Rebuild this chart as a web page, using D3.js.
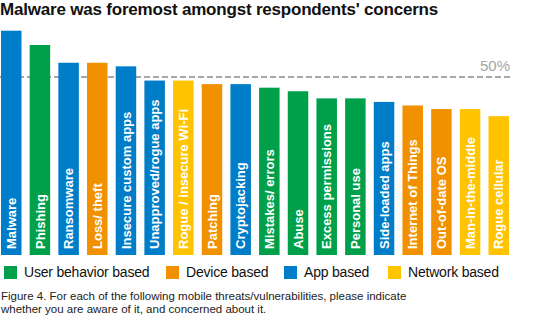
<!DOCTYPE html>
<html>
<head>
<meta charset="utf-8">
<script src="https://cdn.jsdelivr.net/npm/d3@7/dist/d3.min.js"></script>
<style>
  html, body { margin: 0; padding: 0; background: #fff; }
  svg { display: block; }
  text { font-family: "Liberation Sans", Arial, Helvetica, sans-serif; }
</style>
</head>
<body>
<svg id="chart" width="552" height="331"></svg>
<script>
// Threats, in order of share of respondents concerned
const categories = [
  "Malware", "Phishing", "Ransomware", "Loss/ theft", "Insecure custom apps",
  "Unapproved/rogue apps", "Rogue / insecure Wi-Fi", "Patching", "Cryptojacking",
  "Mistakes/ errors", "Abuse", "Excess permissions", "Personal use",
  "Side-loaded apps", "Internet of Things", "Out-of-date OS",
  "Man-in-the-middle", "Rogue cellular"
];
// Percent aware of and concerned about each threat
const values = [63, 59, 54, 54, 53, 49, 49, 48, 48, 47, 46, 44, 44, 43, 42, 41, 41, 39];
// Threat group for each bar
const groups = [
  "App", "User", "App", "Device", "App",
  "App", "Network", "Device", "App",
  "User", "User", "User", "User",
  "App", "Device", "Device",
  "Network", "Network"
];
const legendKeys = ["User", "Device", "App", "Network"];
const legendLabels = ["User behavior based", "Device based", "App based", "Network based"];
const referenceValue = 50;
const referenceLabel = "50%";

const colour = d3.scaleOrdinal()
  .domain(legendKeys)
  .range(["#00A04B", "#F29100", "#007DC8", "#FFC300"]);

const svg = d3.select("#chart");

const x = d3.scaleBand()
  .domain(categories)
  .range([1, 509])
  .paddingInner(0.285)
  .paddingOuter(0);

const y = d3.scaleLinear()
  .domain([0, 50])
  .range([255, 77]);

// Title
svg.append("text")
  .attr("x", 0)
  .attr("y", 14.5)
  .attr("font-size", 17)
  .attr("font-weight", "bold")
  .attr("letter-spacing", -0.2)
  .attr("fill", "#111")
  .text("Malware was foremost amongst respondents' concerns");

// 50% reference line, drawn beneath the bars
svg.append("line")
  .attr("x1", 0)
  .attr("x2", 510)
  .attr("y1", y(referenceValue))
  .attr("y2", y(referenceValue))
  .attr("stroke", "#A6A6A6")
  .attr("stroke-width", 2)
  .attr("stroke-dasharray", "6,3");

svg.append("text")
  .attr("x", 510)
  .attr("y", y(referenceValue) - 6.5)
  .attr("text-anchor", "end")
  .attr("font-size", 15)
  .attr("fill", "#A6A6A6")
  .text(referenceLabel);

// Bars
const bar = svg.append("g")
  .selectAll("g")
  .data(categories.map((c, i) => ({ name: c, value: values[i], group: groups[i] })))
  .join("g");

bar.append("rect")
  .attr("x", d => x(d.name))
  .attr("y", d => y(d.value))
  .attr("width", x.bandwidth())
  .attr("height", d => y(0) - y(d.value))
  .attr("fill", d => colour(d.group));

// Category names running up inside each bar
bar.append("text")
  .attr("transform", d => `translate(${x(d.name) + x.bandwidth() / 2},${y(0) - 6}) rotate(-90)`)
  .attr("dy", "0.36em")
  .attr("font-size", 13)
  .attr("font-weight", "bold")
  .attr("fill", "#fff")
  .text(d => d.name);

// Legend
const legendX = [4, 166, 284, 388];
const legend = svg.append("g")
  .selectAll("g")
  .data(legendKeys)
  .join("g")
  .attr("transform", (d, i) => `translate(${legendX[i]},266)`);

legend.append("rect")
  .attr("width", 13)
  .attr("height", 13)
  .attr("fill", d => colour(d));

legend.append("text")
  .attr("x", 20)
  .attr("y", 11)
  .attr("font-size", 14)
  .attr("letter-spacing", -0.2)
  .attr("fill", "#111")
  .text((d, i) => legendLabels[i]);

// Caption
const caption = [
  "Figure 4. For each of the following mobile threats/vulnerabilities, please indicate",
  "whether you are aware of it, and concerned about it."
];
svg.append("g")
  .selectAll("text")
  .data(caption)
  .join("text")
  .attr("x", 1)
  .attr("y", (d, i) => 300 + i * 13)
  .attr("font-size", 11.5)
  .attr("fill", "#222")
  .text(d => d);
</script>
</body>
</html>
